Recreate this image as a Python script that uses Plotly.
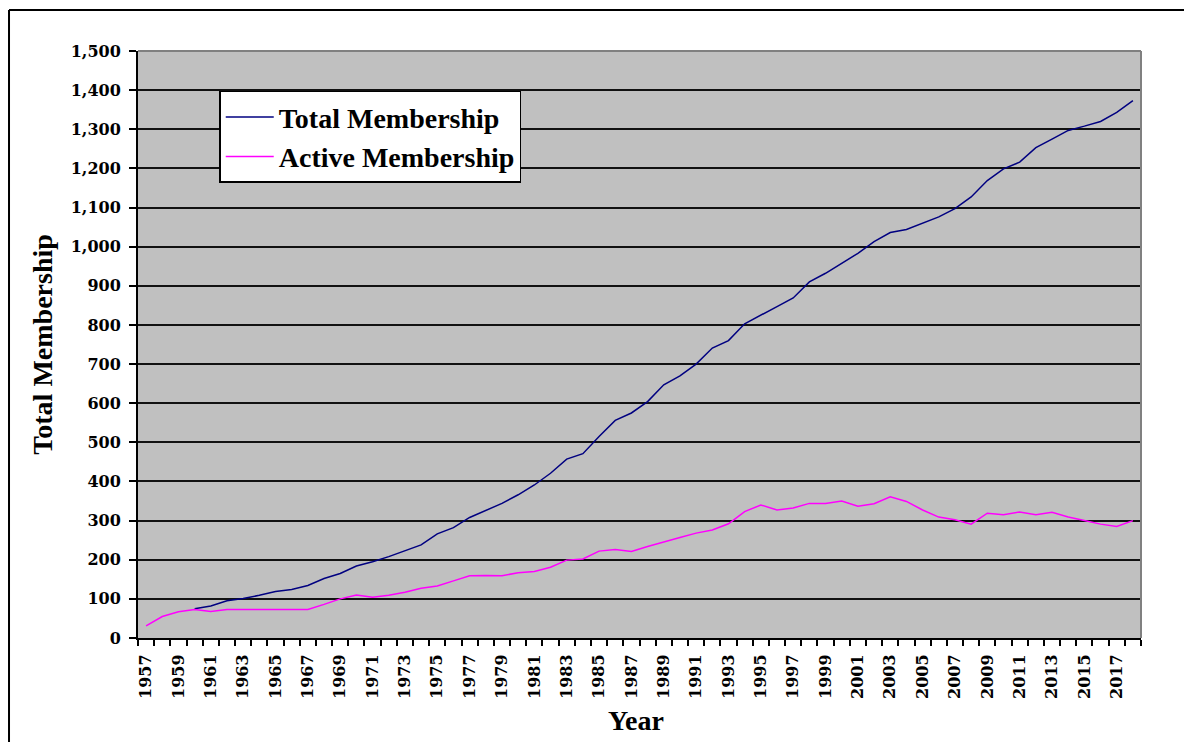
import plotly.graph_objects as go

years = list(range(1957, 2019))
active = [31, 55, 67, 73, 68, 73, 73, 73, 73, 73,
          73, 86, 100, 110, 104, 109, 117, 127, 133, 146,
          159, 160, 159, 167, 170, 181, 199, 202, 222, 226,
          221, 234, 246, 257, 268, 276, 292, 323, 340, 327,
          332, 344, 344, 350, 337, 343, 361, 349, 327, 309,
          302, 291, 319, 315, 322, 315, 321, 309, 300, 291,
          285, 300]
total = [None, None, None, 75, 82, 95, 101, 109, 119, 124,
         134, 152, 165, 184, 195, 208, 222, 238, 266, 282,
         308, 327, 344, 366, 391, 421, 457, 471, 515, 556,
         575, 604, 647, 670, 700, 741, 760, 803, 826, 847,
         869, 910, 932, 957, 983, 1013, 1036, 1044, 1059, 1076,
         1097, 1127, 1169, 1199, 1216, 1253, 1275, 1297, 1308, 1320,
         1343, 1373]
label_years = list(range(1957, 2018, 2))
y_ticks = list(range(0, 1501, 100))

TICKFONT = dict(family="DejaVu Serif", size=16, color="black", weight="bold")
TITLEFONT = dict(family="Liberation Serif", size=28, color="black", weight="bold")

fig = go.Figure()
fig.add_trace(go.Scatter(x=years, y=total, mode="lines", name="Total Membership",
                         line=dict(color="#000080", width=1.5)))
fig.add_trace(go.Scatter(x=years, y=active, mode="lines", name="Active Membership",
                         line=dict(color="#FF00FF", width=1.5)))

fig.update_layout(
    width=1176, height=734,
    margin=dict(l=130, r=43, t=43, b=104, autoexpand=False),
    paper_bgcolor="white", plot_bgcolor="#C0C0C0",
    showlegend=True,
    legend=dict(x=0.081, y=0.932, xanchor="left", yanchor="top",
                bgcolor="white", bordercolor="black", borderwidth=1.5,
                font=dict(family="Liberation Serif", size=28, color="black", weight="bold"),
                tracegroupgap=0, itemwidth=48),
    xaxis=dict(
        range=[1956.5, 2018.5], tickmode="array", tickvals=label_years,
        ticktext=[str(y) for y in label_years], tickangle=-90,
        ticks="", ticklabelstandoff=8, tickfont=TICKFONT,
        showgrid=False, zeroline=False, automargin=False,
        showline=True, linecolor="black", linewidth=2,
        minor=dict(ticks="outside", tick0=1956.5, dtick=1, ticklen=6,
                   tickcolor="black", tickwidth=1.5, showgrid=False),
    ),
    yaxis=dict(
        range=[0, 1500], tickmode="array", tickvals=y_ticks, tickformat=",d",
        ticks="outside", ticklen=7, tickcolor="black", tickwidth=1.5,
        ticklabelstandoff=5, tickfont=TICKFONT, automargin=False,
        showgrid=True, gridcolor="#111111", gridwidth=2,
        zeroline=False, showline=True, linecolor="black", linewidth=2,
        title=dict(text="Total Membership", font=TITLEFONT, standoff=10),
    ),
    annotations=[
        dict(text="Year", xref="paper", yref="paper", x=0.497, y=-0.1397,
             xanchor="center", yanchor="middle", showarrow=False, font=TITLEFONT),
    ],
    shapes=[
        dict(type="line", xref="paper", yref="paper", x0=0, x1=1, y0=1, y1=1,
             line=dict(color="#808080", width=2)),
        dict(type="line", xref="paper", yref="paper", x0=1, x1=1, y0=0, y1=1,
             line=dict(color="#808080", width=2)),
        dict(type="line", xref="paper", yref="paper", x0=-0.1286, x1=1.06, y0=1.0698, y1=1.0698,
             line=dict(color="black", width=2)),
        dict(type="line", xref="paper", yref="paper", x0=-0.1286, x1=-0.1286, y0=1.0698, y1=-0.2,
             line=dict(color="black", width=2)),
    ],
)

fig.write_html("out.html")
